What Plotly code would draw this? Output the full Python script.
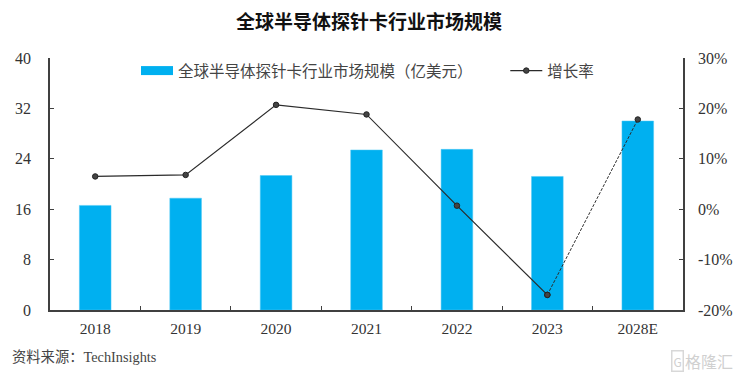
import plotly.graph_objects as go

categories = ["2018", "2019", "2020", "2021", "2022", "2023", "2028E"]
market_size = [16.6, 17.75, 21.35, 25.4, 25.5, 21.2, 30.0]
growth_pct = [6.5, 6.8, 20.7, 18.8, 0.7, -17.0, 17.8]
left_ticks = [0, 8, 16, 24, 32, 40]
right_ticks = [-20, -10, 0, 10, 20, 30]
right_labels = ["-20%", "-10%", "0%", "10%", "20%", "30%"]

FONT = "Liberation Serif, Noto Sans CJK SC, serif"
CJK = "Noto Sans CJK SC, sans-serif"
TXT = "#333333"
AX = "#404040"
BLUE = "#00B0F0"
PAGE = 8            # the page adds this much around the figure
L, T, PW, PH = 50, 58, 633, 252.5

def px(x):
    return (x - L) / PW

def py(y):
    return 1 - (y - T) / PH

fig = go.Figure()
fig.add_trace(go.Scatter(x=[None], y=[None], mode="lines", line=dict(color=BLUE, width=9),
                         name="全球半导体探针卡行业市场规模\uff08亿美元\uff09\u00a0\u00a0\u00a0\u00a0\u00a0\u00a0\u00a0\u00a0"))
fig.add_trace(go.Bar(x=categories, y=market_size, showlegend=False,
                     marker=dict(color=BLUE, line=dict(color="#4FC8F5", width=0.5)), width=0.35))
fig.add_trace(go.Scatter(x=categories[:6], y=growth_pct[:6], name="增长率", yaxis="y2", mode="lines+markers",
                         line=dict(color="#2b2b2b", width=1.2),
                         marker=dict(size=5.5, color="#444444", line=dict(color="#222222", width=1))))
fig.add_trace(go.Scatter(x=categories[5:], y=growth_pct[5:], yaxis="y2", mode="lines+markers", showlegend=False,
                         line=dict(color="#2b2b2b", width=1, dash="3px,1.5px"),
                         marker=dict(size=5.5, color="#444444", line=dict(color="#222222", width=1))))

fig.update_layout(
    width=741 - PAGE, height=379 - PAGE, paper_bgcolor="white", plot_bgcolor="white",
    margin=dict(l=L - PAGE, r=741 - L - PW, t=T - PAGE, b=379 - T - PH),
    font=dict(family=FONT, size=16, color=TXT),
    title=dict(text="<b>全球半导体探针卡行业市场规模</b>", x=(369 - PAGE) / (741 - PAGE), xanchor="center",
               y=1 - (22 - PAGE) / (379 - PAGE), yanchor="middle",
               font=dict(size=19, color="#111111", family=CJK)),
    showlegend=True,
    legend=dict(orientation="h", x=px(136), y=py(54), yanchor="top", xanchor="left", bgcolor="rgba(0,0,0,0)",
                font=dict(size=15.5, color="#444444", family=CJK), itemwidth=32, tracegroupgap=0),
    xaxis=dict(type="category", categoryorder="array", categoryarray=categories, tickson="boundaries",
               ticks="inside", ticklen=4, tickwidth=1.2, tickcolor=AX, showline=True, linecolor=AX, linewidth=1.5,
               showgrid=False, tickfont=dict(size=15.5), ticklabelstandoff=4, automargin=False),
    yaxis=dict(range=[0, 40], tickvals=left_ticks, ticks="inside", ticklen=4, tickwidth=1.2, tickcolor=AX,
               showline=True, linecolor=AX, linewidth=1.5, showgrid=False, zeroline=False,
               ticklabelstandoff=14, automargin=False),
    yaxis2=dict(range=[-20, 30], tickvals=right_ticks, ticktext=right_labels, overlaying="y", side="right",
                ticks="inside", ticklen=4, tickwidth=1.2, tickcolor=AX, showline=True, linecolor=AX, linewidth=1.5,
                showgrid=False, zeroline=False, ticklabelstandoff=10, automargin=False),
    annotations=[
        dict(text="资料来源\uff1aTechInsights", xref="paper", yref="paper", x=px(10), y=py(357.5), xanchor="left",
             yanchor="middle", showarrow=False, font=dict(size=14.3, color="#444444", family=FONT)),
        dict(text="格隆汇", xref="paper", yref="paper", x=px(735), y=py(362), xanchor="right",
             yanchor="middle", showarrow=False, font=dict(size=16, color="#d0d0d0", family=CJK)),
        dict(text="G", xref="paper", yref="paper", x=px(677), y=py(362), xanchor="center", yanchor="middle",
             showarrow=False, bordercolor="#d8d8d8", borderwidth=1.5, borderpad=1,
             font=dict(size=12, color="#d0d0d0", family=CJK)),
    ],
)
fig.write_html("out.html")
